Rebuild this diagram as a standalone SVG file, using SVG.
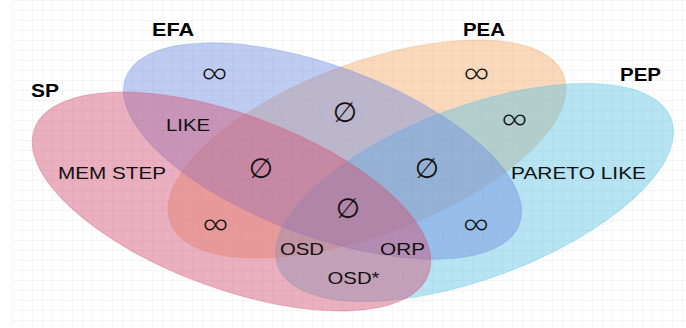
<svg xmlns="http://www.w3.org/2000/svg" width="686" height="328" viewBox="0 0 686 328">
<defs>
<pattern id="grid" x="12" y="0" width="10" height="10" patternUnits="userSpaceOnUse">
<path d="M0 0H10M0 0V10" fill="none" stroke="#ececec" stroke-width="1"/>
</pattern>
<style>
.set{stroke-width:1}
.lbl{font-family:"Liberation Sans",Arial,sans-serif;font-size:18px;font-weight:bold;fill:#000}
.txt{font-family:"Liberation Sans",Arial,sans-serif;font-size:17px;fill:#111}
.sym{fill:#111;text-anchor:middle;dominant-baseline:central}
.inf{font-family:"Open Sans",sans-serif;font-size:37px;font-weight:300}
.emp{font-family:"DejaVu Sans",sans-serif;font-size:28px}
</style>
</defs>
<rect width="686" height="328" fill="#fff"/>
<rect x="12" y="0" width="674" height="327" fill="url(#grid)"/>
<g id="PEA"><ellipse class="set" cx="367" cy="149" rx="210" ry="86" transform="rotate(-20.5 367 149)" fill="#f1a96b" fill-opacity="0.45" stroke="#f1a96b" stroke-opacity="0.35"/></g>
<g id="PEP"><ellipse class="set" cx="474.5" cy="192.5" rx="210" ry="86" transform="rotate(-20.5 474.5 192.5)" fill="#5dc3e3" fill-opacity="0.45" stroke="#5dc3e3" stroke-opacity="0.35"/></g>
<g id="EFA"><ellipse class="set" cx="322.5" cy="151" rx="210" ry="85" transform="rotate(20.4 322.5 151)" fill="#718de1" fill-opacity="0.45" stroke="#718de1" stroke-opacity="0.35"/></g>
<g id="SP"><ellipse class="set" cx="231.5" cy="201.5" rx="210" ry="87" transform="rotate(20.3 231.5 201.5)" fill="#d34f71" fill-opacity="0.45" stroke="#d34f71" stroke-opacity="0.35"/></g>
<g id="labels">
<text class="lbl" x="152" y="36" textLength="42" lengthAdjust="spacingAndGlyphs">EFA</text>
<text class="lbl" x="463" y="36" textLength="42" lengthAdjust="spacingAndGlyphs">PEA</text>
<text class="lbl" x="31" y="97" textLength="28" lengthAdjust="spacingAndGlyphs">SP</text>
<text class="lbl" x="620" y="81" textLength="41" lengthAdjust="spacingAndGlyphs">PEP</text>
</g>
<g id="regions">
<text class="txt" x="166" y="131" textLength="44" lengthAdjust="spacingAndGlyphs">LIKE</text>
<text class="txt" x="58" y="179" textLength="108" lengthAdjust="spacingAndGlyphs">MEM STEP</text>
<text class="txt" x="511" y="179" textLength="135" lengthAdjust="spacingAndGlyphs">PARETO LIKE</text>
<text class="txt" x="280" y="255" textLength="44" lengthAdjust="spacingAndGlyphs">OSD</text>
<text class="txt" x="380" y="255" textLength="45" lengthAdjust="spacingAndGlyphs">ORP</text>
<text class="txt" x="327.5" y="284" textLength="52" lengthAdjust="spacingAndGlyphs">OSD*</text>
<text class="sym inf" x="214.5" y="72">∞</text>
<text class="sym inf" x="476.5" y="72">∞</text>
<text class="sym inf" x="514.5" y="118">∞</text>
<text class="sym inf" x="215.5" y="223">∞</text>
<text class="sym inf" x="476" y="223">∞</text>
<text class="sym emp" x="345" y="112">∅</text>
<text class="sym emp" x="261" y="168">∅</text>
<text class="sym emp" x="427" y="168">∅</text>
<text class="sym emp" x="348" y="208">∅</text>
</g>
</svg>
